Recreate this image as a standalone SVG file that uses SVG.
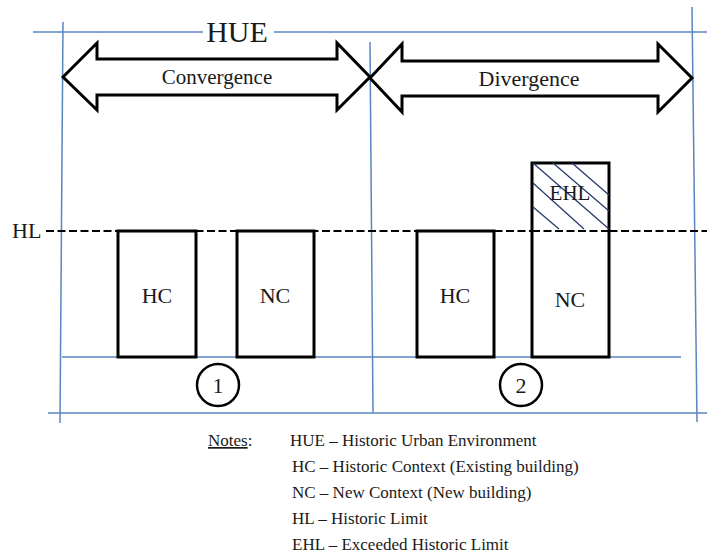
<svg xmlns="http://www.w3.org/2000/svg" width="707" height="555" viewBox="0 0 707 555">
<style>
.grid{stroke:#5a86c2;stroke-width:1.5;fill:none}
.arrow{fill:#fff;stroke:#000;stroke-width:3;stroke-linejoin:miter}
.bld{fill:#fff;stroke:#000;stroke-width:3}
.hatch{stroke:#2a3a6e;stroke-width:1.3}
.c{text-anchor:middle}
.circ{fill:#fff;stroke:#000;stroke-width:2.5}
</style>
<rect width="707" height="555" fill="#fff"/>
<g id="grid">
<line class="grid" x1="33" y1="32" x2="707" y2="32"/>
<line class="grid" x1="63" y1="22" x2="60" y2="423"/>
<line class="grid" x1="370" y1="42" x2="373" y2="413"/>
<line class="grid" x1="692" y1="7" x2="697" y2="422"/>
<line class="grid" x1="62" y1="357" x2="681" y2="357"/>
<line class="grid" x1="48" y1="413" x2="707" y2="413"/>
</g>
<g font-family="'Liberation Serif', 'Times New Roman', Times, 'DejaVu Serif', serif" fill="#1a1a1a">
<g id="hue">
<rect x="203" y="18" width="71" height="28" fill="#fff"/>
<text class="c" x="237" y="42" font-size="30">HUE</text>
</g>
<g id="convergence">
<polygon class="arrow" points="63,77 97,43 97,59 337,59 337,43 370,77 337,110 337,95 97,95 97,110"/>
<text class="c" x="217" y="84" font-size="21">Convergence</text>
</g>
<g id="divergence">
<polygon class="arrow" points="370,78 402,44 402,61 658,61 658,44 692,78 658,112 658,96 402,96 402,112"/>
<text class="c" x="529" y="86" font-size="22">Divergence</text>
</g>
<g id="hl">
<line x1="46" y1="231" x2="707" y2="231" stroke="#000" stroke-width="2" stroke-dasharray="8,3.5"/>
<text x="12" y="238" font-size="22">HL</text>
</g>
<g id="hc1">
<rect class="bld" x="118" y="231" width="78" height="126"/>
<text class="c" x="157" y="303" font-size="22">HC</text>
</g>
<g id="nc1">
<rect class="bld" x="237" y="231" width="77" height="126"/>
<text class="c" x="275" y="303" font-size="22">NC</text>
</g>
<g id="hc2">
<rect class="bld" x="417" y="231" width="77" height="126"/>
<text class="c" x="455" y="303" font-size="22">HC</text>
</g>
<g id="nc2">
<rect class="bld" x="532" y="163" width="77" height="194"/>
<line class="hatch" x1="533" y1="163" x2="609" y2="229"/>
<line class="hatch" x1="553" y1="163" x2="609" y2="211"/>
<line class="hatch" x1="572" y1="163" x2="609" y2="195"/>
<line class="hatch" x1="533" y1="183" x2="584" y2="229"/>
<line class="hatch" x1="533" y1="207" x2="559" y2="229"/>
<line x1="532" y1="231" x2="609" y2="231" stroke="#000" stroke-width="2" stroke-dasharray="8,3.5"/>
<text class="c" x="570" y="200" font-size="21">EHL</text>
<text class="c" x="570" y="307" font-size="22">NC</text>
</g>
<g id="circle1">
<circle class="circ" cx="218" cy="385" r="21"/>
<text class="c" x="218" y="393" font-size="22">1</text>
</g>
<g id="circle2">
<circle class="circ" cx="521" cy="385" r="21"/>
<text class="c" x="521" y="393" font-size="22">2</text>
</g>
<g id="notes" font-size="17">
<text x="208" y="446"><tspan text-decoration="underline">Notes</tspan>:</text>
<text x="290" y="446">HUE – Historic Urban Environment</text>
<text x="292" y="472">HC – Historic Context (Existing building)</text>
<text x="292" y="498">NC – New Context (New building)</text>
<text x="292" y="524">HL – Historic Limit</text>
<text x="292" y="550">EHL – Exceeded Historic Limit</text>
</g>
</g>
</svg>
